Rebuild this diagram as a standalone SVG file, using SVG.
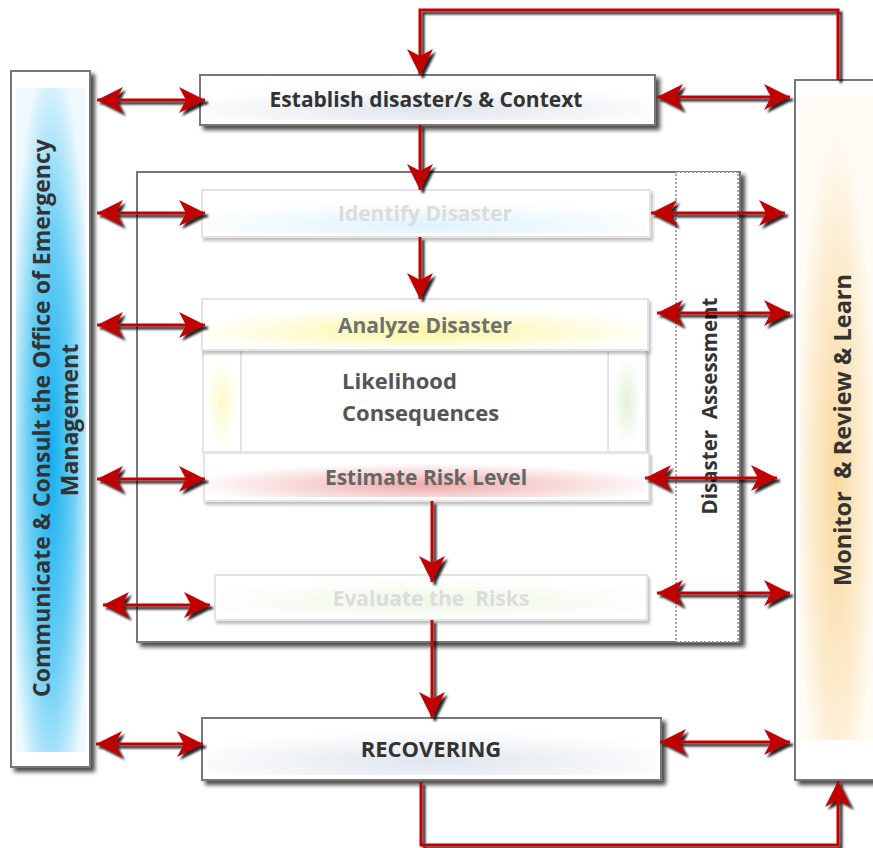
<svg xmlns="http://www.w3.org/2000/svg" width="873" height="848" viewBox="0 0 873 848">
<style>
text{font-family:"Open Sans","Noto Sans","Liberation Sans",sans-serif;font-weight:bold;}
.box{fill:#ffffff;stroke:#777;stroke-width:2;}
.faint{fill:#ffffff;stroke:#e4e4e4;stroke-width:2;}
.conn{fill:none;stroke:#c00000;stroke-width:3;}
</style>
<defs>
<filter id="sh" x="-10%" y="-10%" width="130%" height="130%">
<feDropShadow dx="4" dy="4" stdDeviation="2" flood-color="#000" flood-opacity="0.7"/>
</filter>
<filter id="shl" x="-10%" y="-10%" width="130%" height="130%">
<feDropShadow dx="2" dy="3" stdDeviation="1.5" flood-color="#000" flood-opacity="0.25"/>
</filter>
<filter id="csh" x="-5%" y="-5%" width="110%" height="110%">
<feDropShadow dx="3" dy="3" stdDeviation="0.8" flood-color="#000" flood-opacity="0.85"/>
</filter>
<marker id="ah" viewBox="0 0 26 26" refX="26" refY="13" markerWidth="26" markerHeight="26" markerUnits="userSpaceOnUse" orient="auto-start-reverse">
<path d="M0,0 L26,13 L0,26 L7,13 z" fill="#c00000"/>
</marker>
<radialGradient id="blue" cx="0.5" cy="0.55" r="0.6">
<stop offset="0" stop-color="#12aeee"/>
<stop offset="0.55" stop-color="#6ccff5"/>
<stop offset="1" stop-color="#eef9fe"/>
</radialGradient>
<radialGradient id="orange" cx="0.5" cy="0.6" r="0.55">
<stop offset="0" stop-color="#f9d9a0"/>
<stop offset="0.6" stop-color="#fcebcc"/>
<stop offset="1" stop-color="#fffbf4"/>
</radialGradient>
<radialGradient id="grey" cx="0.5" cy="0.75" r="0.6">
<stop offset="0" stop-color="#dfe6ee"/>
<stop offset="1" stop-color="#ffffff"/>
</radialGradient>
<radialGradient id="lblue" cx="0.5" cy="0.8" r="0.6">
<stop offset="0" stop-color="#dff3fc"/>
<stop offset="1" stop-color="#ffffff"/>
</radialGradient>
<radialGradient id="yellow" cx="0.5" cy="0.65" r="0.55">
<stop offset="0" stop-color="#fcf7a0"/>
<stop offset="1" stop-color="#ffffff"/>
</radialGradient>
<radialGradient id="red" cx="0.5" cy="0.7" r="0.55">
<stop offset="0" stop-color="#eeaaaa"/>
<stop offset="1" stop-color="#ffffff"/>
</radialGradient>
<radialGradient id="green" cx="0.5" cy="0.6" r="0.6">
<stop offset="0" stop-color="#eef8e6"/>
<stop offset="1" stop-color="#ffffff"/>
</radialGradient>
<radialGradient id="pyel" cx="0.5" cy="0.5" r="0.5">
<stop offset="0" stop-color="#fcfbc8"/>
<stop offset="1" stop-color="#ffffff"/>
</radialGradient>
<radialGradient id="pgrn" cx="0.5" cy="0.5" r="0.5">
<stop offset="0" stop-color="#e4f2dc"/>
<stop offset="1" stop-color="#ffffff"/>
</radialGradient>
</defs>
<rect width="873" height="848" fill="#ffffff"/>

<g id="communicate">
<rect x="11" y="71" width="79" height="696" class="box" filter="url(#sh)"/>
<rect x="16" y="88" width="70" height="664" fill="url(#blue)"/>
<text transform="translate(50,418) rotate(-90)" text-anchor="middle" font-size="23" fill="#333">Communicate &amp; Consult the Office of Emergency</text>
<text transform="translate(78,420) rotate(-90)" text-anchor="middle" font-size="23" fill="#333">Management</text>
</g>

<g id="monitor">
<rect x="795" y="80" width="80" height="700" class="box" filter="url(#sh)"/>
<rect x="800" y="95" width="73" height="645" fill="url(#orange)"/>
<text transform="translate(851,430) rotate(-90)" text-anchor="middle" font-size="23.5" fill="#333" xml:space="preserve">Monitor  &amp; Review &amp; Learn</text>
</g>

<g id="assessment-frame">
<rect x="137" y="172" width="603" height="470" fill="#ffffff" stroke="#777" stroke-width="2" filter="url(#sh)"/>
<rect x="676" y="172" width="62" height="470" fill="#ffffff" stroke="#888" stroke-width="1.5" stroke-dasharray="2,2"/>
<text transform="translate(717,406) rotate(-90)" text-anchor="middle" font-size="20.5" fill="#333" xml:space="preserve">Disaster  Assessment</text>
</g>

<g id="establish">
<rect x="200" y="75" width="455" height="50" class="box" filter="url(#sh)"/>
<rect x="205" y="80" width="445" height="40" fill="url(#grey)"/>
<text x="426" y="107" text-anchor="middle" font-size="21" fill="#333">Establish disaster/s &amp; Context</text>
</g>

<g id="identify">
<rect x="202" y="190" width="448" height="47" class="faint" filter="url(#shl)"/>
<rect x="207" y="194" width="438" height="39" fill="url(#lblue)"/>
<text x="425" y="221" text-anchor="middle" font-size="21" fill="#dcdcdc">Identify Disaster</text>
</g>

<g id="analyze">
<rect x="203" y="350" width="38" height="102" class="faint" filter="url(#shl)"/>
<rect x="207" y="356" width="30" height="92" fill="url(#pyel)"/>
<rect x="608" y="350" width="38" height="102" class="faint" filter="url(#shl)"/>
<rect x="612" y="356" width="30" height="92" fill="url(#pgrn)"/>
<rect x="241" y="350" width="367" height="102" fill="#ffffff" stroke="#e0e0e0" stroke-width="1.5"/>
<rect x="202" y="299" width="446" height="51" class="faint" filter="url(#shl)"/>
<rect x="206" y="303" width="438" height="43" fill="url(#yellow)"/>
<text x="425" y="333" text-anchor="middle" font-size="21" fill="#707070">Analyze Disaster</text>
<text x="342" y="389" font-size="22" fill="#555">Likelihood</text>
<text x="342" y="421" font-size="22" fill="#555">Consequences</text>
</g>

<g id="estimate">
<rect x="204" y="453" width="445" height="48" class="faint" filter="url(#shl)"/>
<rect x="208" y="457" width="437" height="40" fill="url(#red)"/>
<text x="426" y="485" text-anchor="middle" font-size="21" fill="#666">Estimate Risk Level</text>
</g>

<g id="evaluate">
<rect x="215" y="575" width="432" height="45" class="faint" filter="url(#shl)"/>
<rect x="219" y="579" width="424" height="37" fill="url(#green)"/>
<text x="431" y="606" text-anchor="middle" font-size="21" fill="#dcdcdc" xml:space="preserve">Evaluate the  Risks</text>
</g>

<g id="recovering">
<rect x="202" y="718" width="459" height="62" class="box" filter="url(#sh)"/>
<rect x="207" y="723" width="449" height="52" fill="url(#grey)"/>
<text x="431" y="757" text-anchor="middle" font-size="22" fill="#333">RECOVERING</text>
</g>

<g id="connectors" filter="url(#csh)">
<path class="conn" d="M838,80 L838,10 L420,10 L420,75" marker-end="url(#ah)"/>
<path class="conn" d="M420,125 L420,190" marker-end="url(#ah)"/>
<path class="conn" d="M420,237 L420,299" marker-end="url(#ah)"/>
<path class="conn" d="M432,501 L432,582" marker-end="url(#ah)"/>
<path class="conn" d="M432,620 L432,718" marker-end="url(#ah)"/>
<path class="conn" d="M421,782 L421,845 L838,845 L838,781" marker-end="url(#ah)"/>

<path class="conn" d="M97,100 L205,100" marker-start="url(#ah)" marker-end="url(#ah)"/>
<path class="conn" d="M97,213 L205,213" marker-start="url(#ah)" marker-end="url(#ah)"/>
<path class="conn" d="M97,325 L205,325" marker-start="url(#ah)" marker-end="url(#ah)"/>
<path class="conn" d="M97,479 L205,479" marker-start="url(#ah)" marker-end="url(#ah)"/>
<path class="conn" d="M103,605 L210,605" marker-start="url(#ah)" marker-end="url(#ah)"/>
<path class="conn" d="M96,744 L203,744" marker-start="url(#ah)" marker-end="url(#ah)"/>

<path class="conn" d="M657,97 L790,97" marker-start="url(#ah)" marker-end="url(#ah)"/>
<path class="conn" d="M651,213 L785,213" marker-start="url(#ah)" marker-end="url(#ah)"/>
<path class="conn" d="M657,313 L790,313" marker-start="url(#ah)" marker-end="url(#ah)"/>
<path class="conn" d="M645,478 L777,478" marker-start="url(#ah)" marker-end="url(#ah)"/>
<path class="conn" d="M657,593 L790,593" marker-start="url(#ah)" marker-end="url(#ah)"/>
<path class="conn" d="M660,742 L790,742" marker-start="url(#ah)" marker-end="url(#ah)"/>
</g>
</svg>
